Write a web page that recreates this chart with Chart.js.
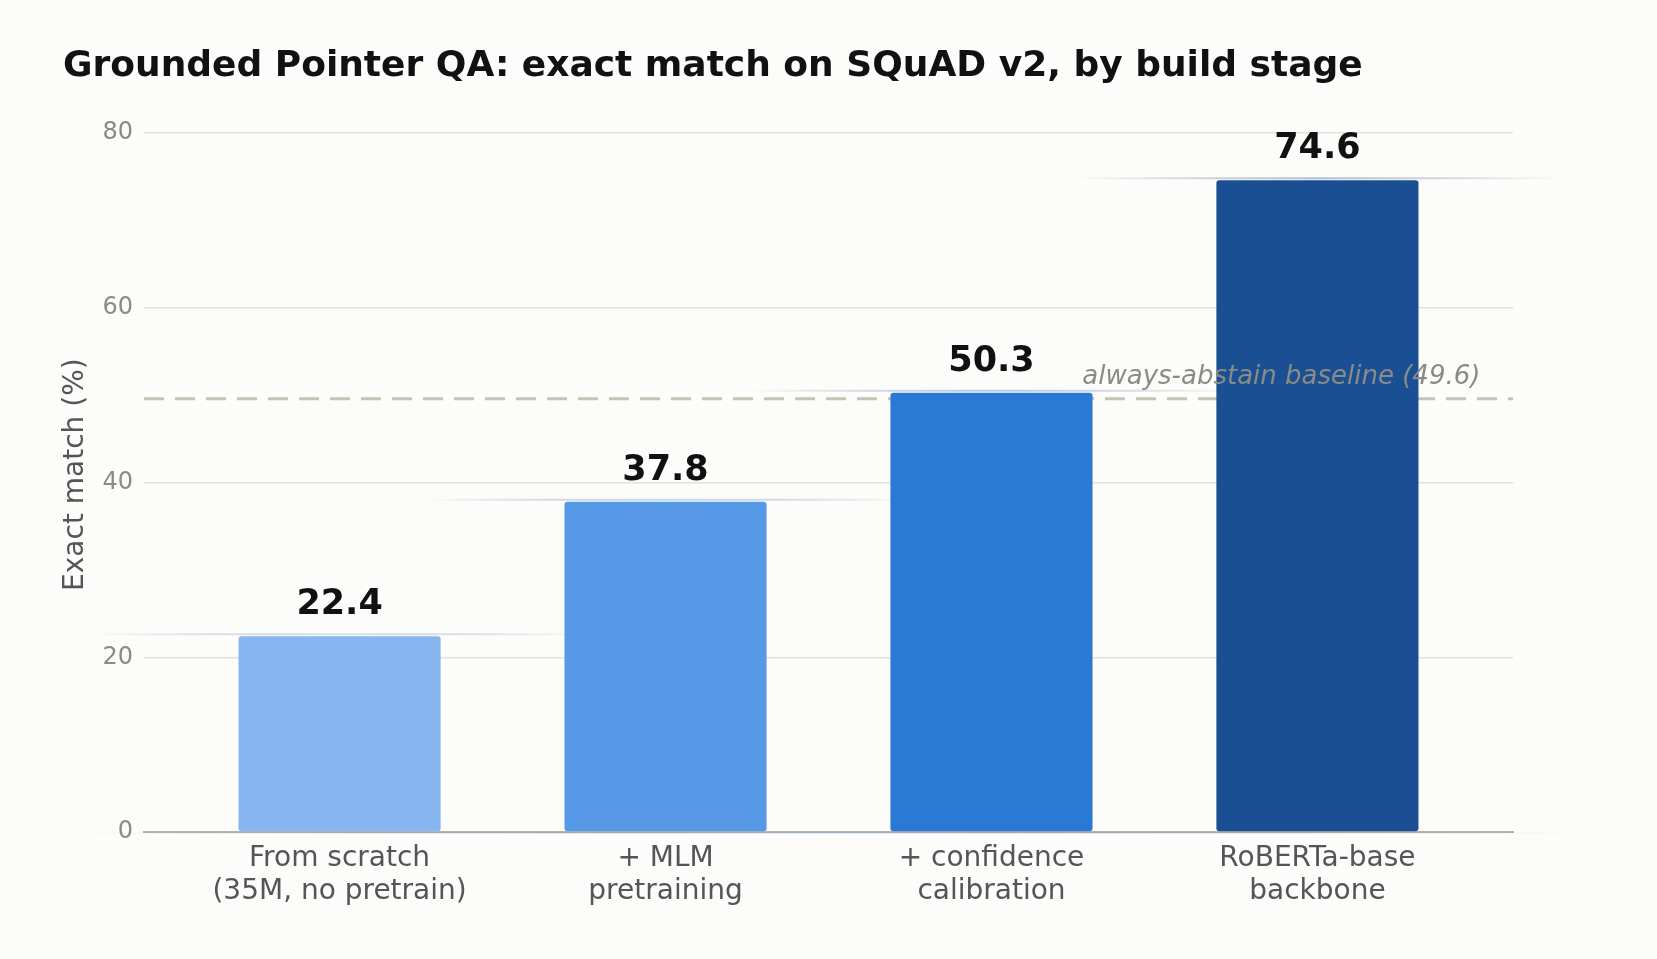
<!DOCTYPE html>
<html>
<head>
<meta charset="utf-8">
<script src="https://cdn.jsdelivr.net/npm/chart.js@4/dist/chart.umd.min.js"></script>
<style>
  html, body { margin: 0; padding: 0; background: #fcfcfa; }
  #wrap { width: 1657px; height: 959px; }
</style>
</head>
<body>
<div id="wrap"><canvas id="chart" width="1657" height="959"></canvas></div>
<script>
// values
const categories = [
  ['From scratch', '(35M, no pretrain)'],
  ['+ MLM', 'pretraining'],
  ['+ confidence', 'calibration'],
  ['RoBERTa-base', 'backbone']
];
const exactMatch = [22.4, 37.8, 50.3, 74.6];
const barColors = ['#87b5f0', '#5699e6', '#2a79d5', '#1a4f93'];
const yTicks = [0, 20, 40, 60, 80];
const baselineValue = 49.6;
const baselineLabel = 'always-abstain baseline (49.6)';
const yTitle = 'Exact match (%)';

const FONT = "'DejaVu Sans', 'Liberation Sans', sans-serif";
Chart.defaults.font.family = FONT;

// soft horizontal line fading out on both sides
function glowLine(ctx, x, y, half, color, alpha) {
  const g = ctx.createLinearGradient(x - half, 0, x + half, 0);
  g.addColorStop(0, 'rgba(0,0,0,0)');
  g.addColorStop(0.5, color);
  g.addColorStop(1, 'rgba(0,0,0,0)');
  ctx.save();
  ctx.globalAlpha = alpha;
  ctx.strokeStyle = g;
  ctx.lineWidth = 2;
  ctx.beginPath();
  ctx.moveTo(x - half, y);
  ctx.lineTo(x + half, y);
  ctx.stroke();
  ctx.restore();
}

const decorations = {
  id: 'decorations',
  beforeDraw(chart) {
    const ctx = chart.ctx;
    ctx.save();
    ctx.fillStyle = '#fcfcfa';
    ctx.fillRect(0, 0, chart.width, chart.height);
    ctx.restore();
  },
  beforeDatasetsDraw(chart) {
    const ctx = chart.ctx;
    const area = chart.chartArea;
    const y = chart.scales.y.getPixelForValue(baselineValue);
    ctx.save();
    ctx.strokeStyle = '#c3c3b7';
    ctx.lineWidth = 3.2;
    ctx.setLineDash([20, 11]);
    ctx.beginPath();
    ctx.moveTo(area.left, y);
    ctx.lineTo(area.right, y);
    ctx.stroke();
    ctx.restore();

    const meta = chart.getDatasetMeta(0);
    meta.data.forEach((bar, i) => {
      glowLine(ctx, bar.x, bar.y - 2, bar.width * 1.2, barColors[i], 0.35);
    });
    glowLine(ctx, (area.left + area.right) / 2, area.bottom + 1,
      (area.right - area.left) / 2 + 90, '#5699e6', 0.18);
  },
  afterDatasetsDraw(chart) {
    const ctx = chart.ctx;
    const meta = chart.getDatasetMeta(0);
    ctx.save();
    ctx.fillStyle = '#111';
    ctx.font = 'bold 35px ' + FONT;
    ctx.textAlign = 'center';
    ctx.textBaseline = 'alphabetic';
    meta.data.forEach((bar, i) => {
      ctx.fillText(exactMatch[i].toFixed(1), bar.x, bar.y - 22);
    });

    const y = chart.scales.y.getPixelForValue(baselineValue);
    ctx.fillStyle = '#8a8a86';
    ctx.font = 'italic 26px ' + FONT;
    ctx.textAlign = 'right';
    ctx.fillText(baselineLabel, chart.scales.x.getPixelForValue(3.5), y - 15);

    // y axis title, sitting slightly above the middle of the axis
    const area = chart.chartArea;
    ctx.translate(chart.scales.y.left + 13, (area.top + area.bottom) / 2 - 8);
    ctx.rotate(-Math.PI / 2);
    ctx.fillStyle = '#555';
    ctx.font = '28px ' + FONT;
    ctx.textAlign = 'center';
    ctx.textBaseline = 'middle';
    ctx.fillText(yTitle, 0, 0);
    ctx.restore();
  }
};

new Chart(document.getElementById('chart'), {
  type: 'bar',
  data: {
    datasets: [{
      data: exactMatch.map((v, i) => ({ x: i, y: v })),
      backgroundColor: barColors,
      borderRadius: 3,
      borderSkipped: false,
      barPercentage: 0.62,
      categoryPercentage: 1
    }]
  },
  options: {
    responsive: false,
    animation: false,
    layout: { padding: { left: 63, right: 144, top: 0, bottom: 0 } },
    plugins: {
      legend: { display: false },
      tooltip: { enabled: false },
      title: {
        display: true,
        text: 'Grounded Pointer QA: exact match on SQuAD v2, by build stage',
        align: 'start',
        color: '#111',
        font: { size: 36, weight: 'bold', lineHeight: 1.2 },
        padding: { top: 45, bottom: 45 }
      }
    },
    scales: {
      x: {
        type: 'linear',
        offset: false,
        min: -0.6,
        max: 3.6,
        afterBuildTicks: s => { s.ticks = categories.map((_, i) => ({ value: i })); },
        afterFit: s => { s.height = 127; },
        ticks: {
          callback: v => categories[v],
          color: '#555',
          font: { size: 28, lineHeight: 1.18 },
          padding: 10,
          autoSkip: false,
          maxRotation: 0
        },
        grid: { display: true, drawOnChartArea: false, drawTicks: false, offset: false },
        border: { display: true, color: '#b4b4ac', width: 2 }
      },
      y: {
        min: 0,
        max: 80,
        afterBuildTicks: s => { s.ticks = yTicks.map(v => ({ value: v })); },
        afterFit: s => { s.width = 81; },
        ticks: { color: '#8a8a86', font: { size: 24 }, padding: 11 },
        grid: { color: '#e2e2dc', lineWidth: 1.5, drawTicks: false },
        border: { display: false },
        title: { display: false }
      }
    }
  },
  plugins: [decorations]
});
</script>
</body>
</html>
